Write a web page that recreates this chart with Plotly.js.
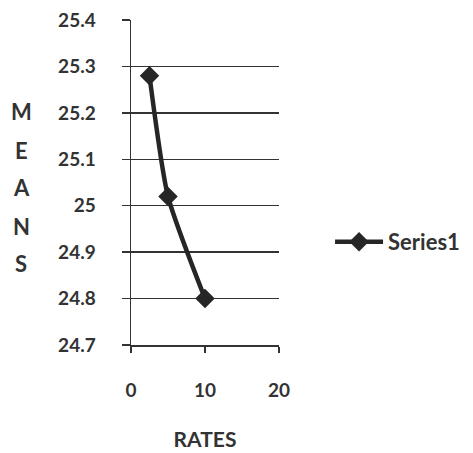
<!DOCTYPE html>
<html>
<head>
<meta charset="utf-8">
<script src="https://cdn.plot.ly/plotly-3.0.1.min.js"></script>
<style>
  html, body { margin: 0; padding: 0; background: #fff; }
  #chart { width: 473px; height: 453px; }
</style>
</head>
<body>
<div id="chart"></div>
<script>
// Mean value observed at each rate
const rates = [2.5, 5, 10];
const means = [25.28, 25.02, 24.8];
const seriesName = "Series1";
const xTitle = "RATES";
const yTitle = "MEANS";
const yTicks = [24.7, 24.8, 24.9, 25, 25.1, 25.2, 25.3, 25.4];
const xTicks = [0, 10, 20];

const ink = "#333333";
const fontFamily = "Lato, 'Open Sans', sans-serif";

const trace = {
  x: rates,
  y: means,
  name: seriesName,
  type: "scatter",
  mode: "lines+markers",
  line: { color: "#262626", width: 4.5, shape: "spline", smoothing: 0.6 },
  marker: { symbol: "diamond", size: 15, color: "#262626" }
};

// Vertical, letter-stacked y-axis title
const letterY = [0.717, 0.6, 0.486, 0.366, 0.252];
const titleLetters = yTitle.split("").map((ch, i) => ({
  text: ch,
  xref: "paper", yref: "paper",
  x: -0.74, y: letterY[i],
  xanchor: "center", yanchor: "middle",
  showarrow: false,
  font: { family: fontFamily, size: 22, color: ink, weight: 700 }
}));

const layout = {
  width: 473,
  height: 453,
  margin: { l: 131, r: 194, t: 20, b: 108, autoexpand: false },
  paper_bgcolor: "#ffffff",
  plot_bgcolor: "#ffffff",
  font: { family: fontFamily, size: 19, color: ink, weight: 700 },
  showlegend: true,
  legend: {
    x: 1.345, y: 0.317, xanchor: "left", yanchor: "middle",
    itemwidth: 48,
    font: { family: fontFamily, size: 22, color: ink, weight: 700 },
    bgcolor: "rgba(0,0,0,0)"
  },
  xaxis: {
    range: [0, 20],
    tickvals: xTicks,
    ticktext: xTicks.map(String),
    showgrid: false,
    zeroline: false,
    showline: true,
    linecolor: ink,
    linewidth: 1.5,
    ticks: "outside",
    ticklen: 6,
    tickwidth: 1.5,
    tickcolor: ink,
    ticklabelstandoff: 22,
    tickfont: { family: fontFamily, size: 19, color: ink, weight: 700 },
    title: {
      text: xTitle,
      standoff: 32,
      font: { family: fontFamily, size: 21, color: ink, weight: 700 }
    },
    fixedrange: true
  },
  yaxis: {
    range: [24.7, 25.4],
    tickvals: yTicks,
    ticktext: yTicks.map(v => String(v)),
    showgrid: true,
    gridcolor: ink,
    gridwidth: 1.5,
    zeroline: false,
    showline: true,
    linecolor: ink,
    linewidth: 1.5,
    ticks: "outside",
    ticklen: 8,
    tickwidth: 1.5,
    tickcolor: ink,
    ticklabelstandoff: 22,
    tickfont: { family: fontFamily, size: 19, color: ink, weight: 700 },
    fixedrange: true
  },
  annotations: titleLetters
};

Plotly.newPlot("chart", [trace], layout, { displayModeBar: false, staticPlot: true });
</script>
</body>
</html>
